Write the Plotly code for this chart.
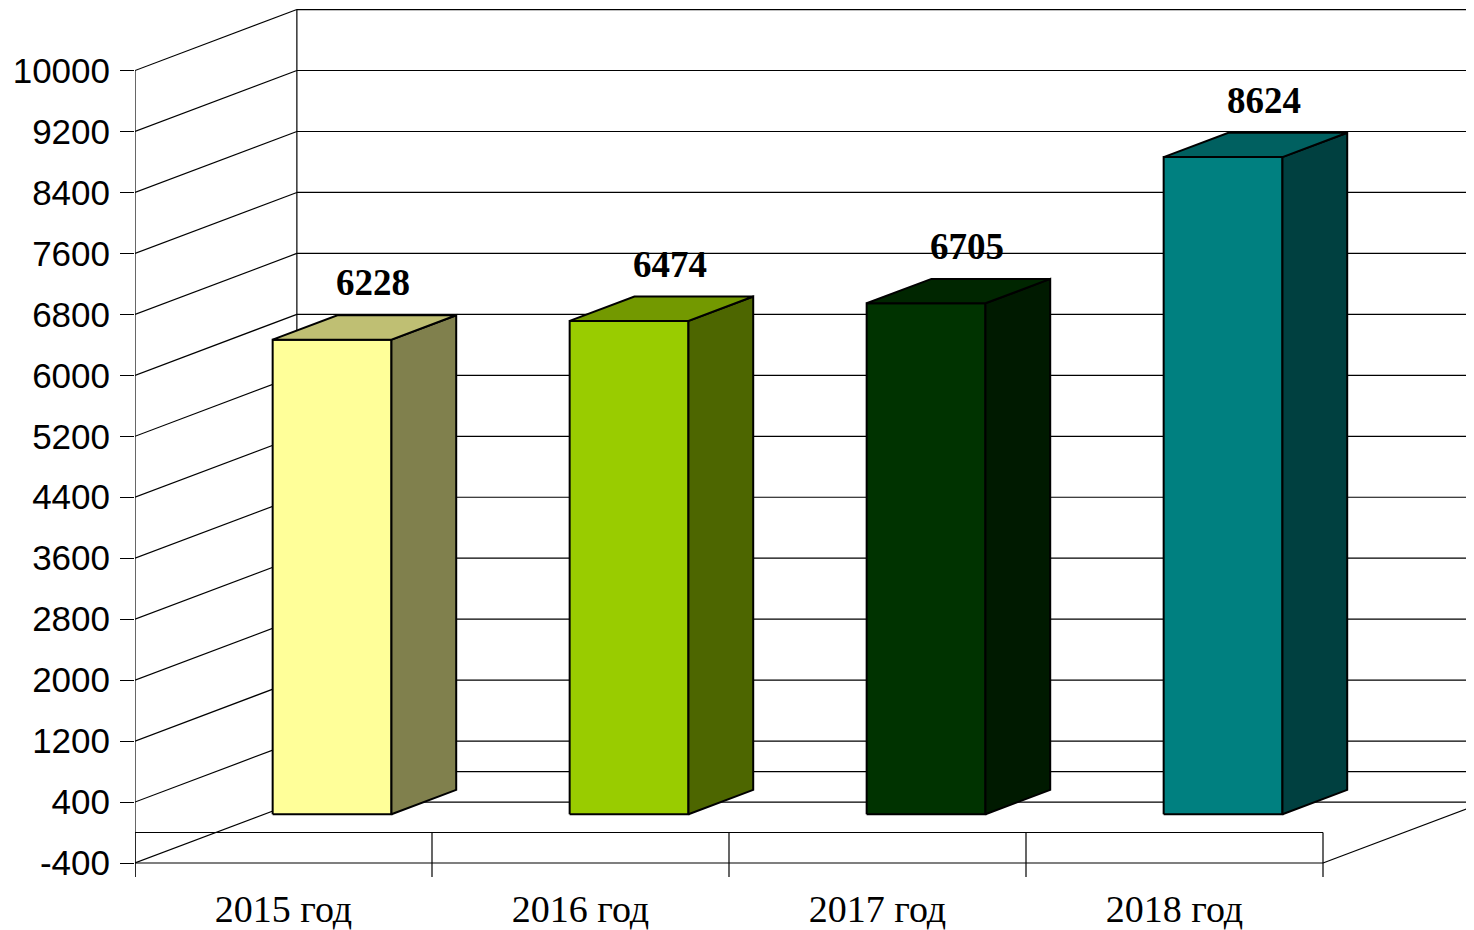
import plotly.graph_objects as go

# ---- data ----
categories = ["2015 год", "2016 год", "2017 год", "2018 год"]
values = [6228, 6474, 6705, 8624]
front_colors = ["#FFFF99", "#99CC00", "#003300", "#008080"]
top_colors = ["#BFBF73", "#739900", "#002600", "#006060"]
side_colors = ["#80804D", "#4D6600", "#001A00", "#004040"]
y_ticks = list(range(-400, 10001, 800))
y_tick_labels = [str(v) for v in y_ticks]

# ---- pseudo-3D geometry (in axis units) ----
DX = 0.545      # horizontal shift of full depth (category units)
DY = 800        # vertical shift of full depth (value units)
HALF_W = 0.2    # half bar width
F0, F1 = 0.3, 0.7   # front/back depth fractions of bars
PX_PER_X = 297.0
PX_PER_Y = 0.0762
PAGE_OFF = 8    # body margin of the html page
FIG_W, FIG_H = 1474 - PAGE_OFF, 930 - PAGE_OFF
M_L = 135 - PAGE_OFF
PLOT_BOTTOM = 877 - PAGE_OFF
X_MIN = -0.5
X_MAX = X_MIN + (FIG_W - M_L) / PX_PER_X
Y_MIN = -400 - (877 - 863) / PX_PER_Y
Y_MAX = -400 + (863 - PAGE_OFF) / PX_PER_Y
XL, XR = -0.5, len(categories) - 0.5
XB = XL + DX

fig = go.Figure()

# back wall gridlines + left wall obliques
gx, gy = [], []
for v in y_ticks:
    gx += [XB, XR + DX + 0.2, None, XL, XB, None]
    gy += [v + DY, v + DY, None, v, v + DY, None]
# floor back edge at 0
gx += [XB, XR + DX + 0.2, None]
gy += [DY, DY, None]
# back wall left edge
gx += [XB, XB, None]
gy += [y_ticks[0] + DY, y_ticks[-1] + DY, None]
# front floor lines and right oblique
gx += [XL, XR, None, XL, XR, None, XR, XR + DX, None]
gy += [0, 0, None, y_ticks[0], y_ticks[0], None, y_ticks[0], y_ticks[0] + DY, None]
# category ticks
for k in range(len(categories) + 1):
    gx += [XL + k, XL + k, None]
    gy += [0, Y_MIN, None]
# value axis line
gx += [XL, XL, None]
gy += [Y_MIN, y_ticks[-1], None]
fig.add_trace(go.Scatter(x=gx, y=gy, mode="lines", hoverinfo="skip",
                         line=dict(color="black", width=1.2), showlegend=False))

# bars
for i, (v, fc, tc, sc) in enumerate(zip(values, front_colors, top_colors, side_colors)):
    xl, xr = i - HALF_W, i + HALF_W
    faces = [
        ([xl + F0 * DX, xr + F0 * DX, xr + F0 * DX, xl + F0 * DX, xl + F0 * DX],
         [F0 * DY, F0 * DY, v + F0 * DY, v + F0 * DY, F0 * DY], fc),
        ([xr + F0 * DX, xr + F1 * DX, xr + F1 * DX, xr + F0 * DX, xr + F0 * DX],
         [F0 * DY, F1 * DY, v + F1 * DY, v + F0 * DY, F0 * DY], sc),
        ([xl + F0 * DX, xr + F0 * DX, xr + F1 * DX, xl + F1 * DX, xl + F0 * DX],
         [v + F0 * DY, v + F0 * DY, v + F1 * DY, v + F1 * DY, v + F0 * DY], tc),
    ]
    for xs, ys, col in faces:
        fig.add_trace(go.Scatter(x=xs, y=ys, mode="lines", fill="toself",
                                 fillcolor=col, line=dict(color="black", width=2),
                                 hoverinfo="skip", showlegend=False))
    fig.add_annotation(x=i + 0.55 * DX, y=v + F1 * DY, text=f"<b>{v}</b>",
                       showarrow=False, yanchor="bottom", yshift=10,
                       font=dict(family="Liberation Serif", size=37, color="black"))

fig.update_layout(
    width=FIG_W, height=FIG_H,
    margin=dict(l=M_L, r=0, t=0, b=FIG_H - PLOT_BOTTOM),
    paper_bgcolor="white", plot_bgcolor="white",
    xaxis=dict(range=[X_MIN, X_MAX], showgrid=False, zeroline=False, showline=False,
               tickvals=list(range(len(categories))), ticktext=categories, ticks="",
               ticklabelstandoff=6, automargin=False,
               tickfont=dict(family="Liberation Serif", size=38, color="black")),
    yaxis=dict(range=[Y_MIN, Y_MAX], showgrid=False, zeroline=False, showline=False,
               tickvals=y_ticks, ticktext=y_tick_labels, ticks="outside", ticklen=14,
               tickwidth=1.2, tickcolor="black", ticklabelstandoff=3, automargin=False,
               tickfont=dict(family="Liberation Sans", size=35, color="black")),
)

fig.write_html("out.html")
